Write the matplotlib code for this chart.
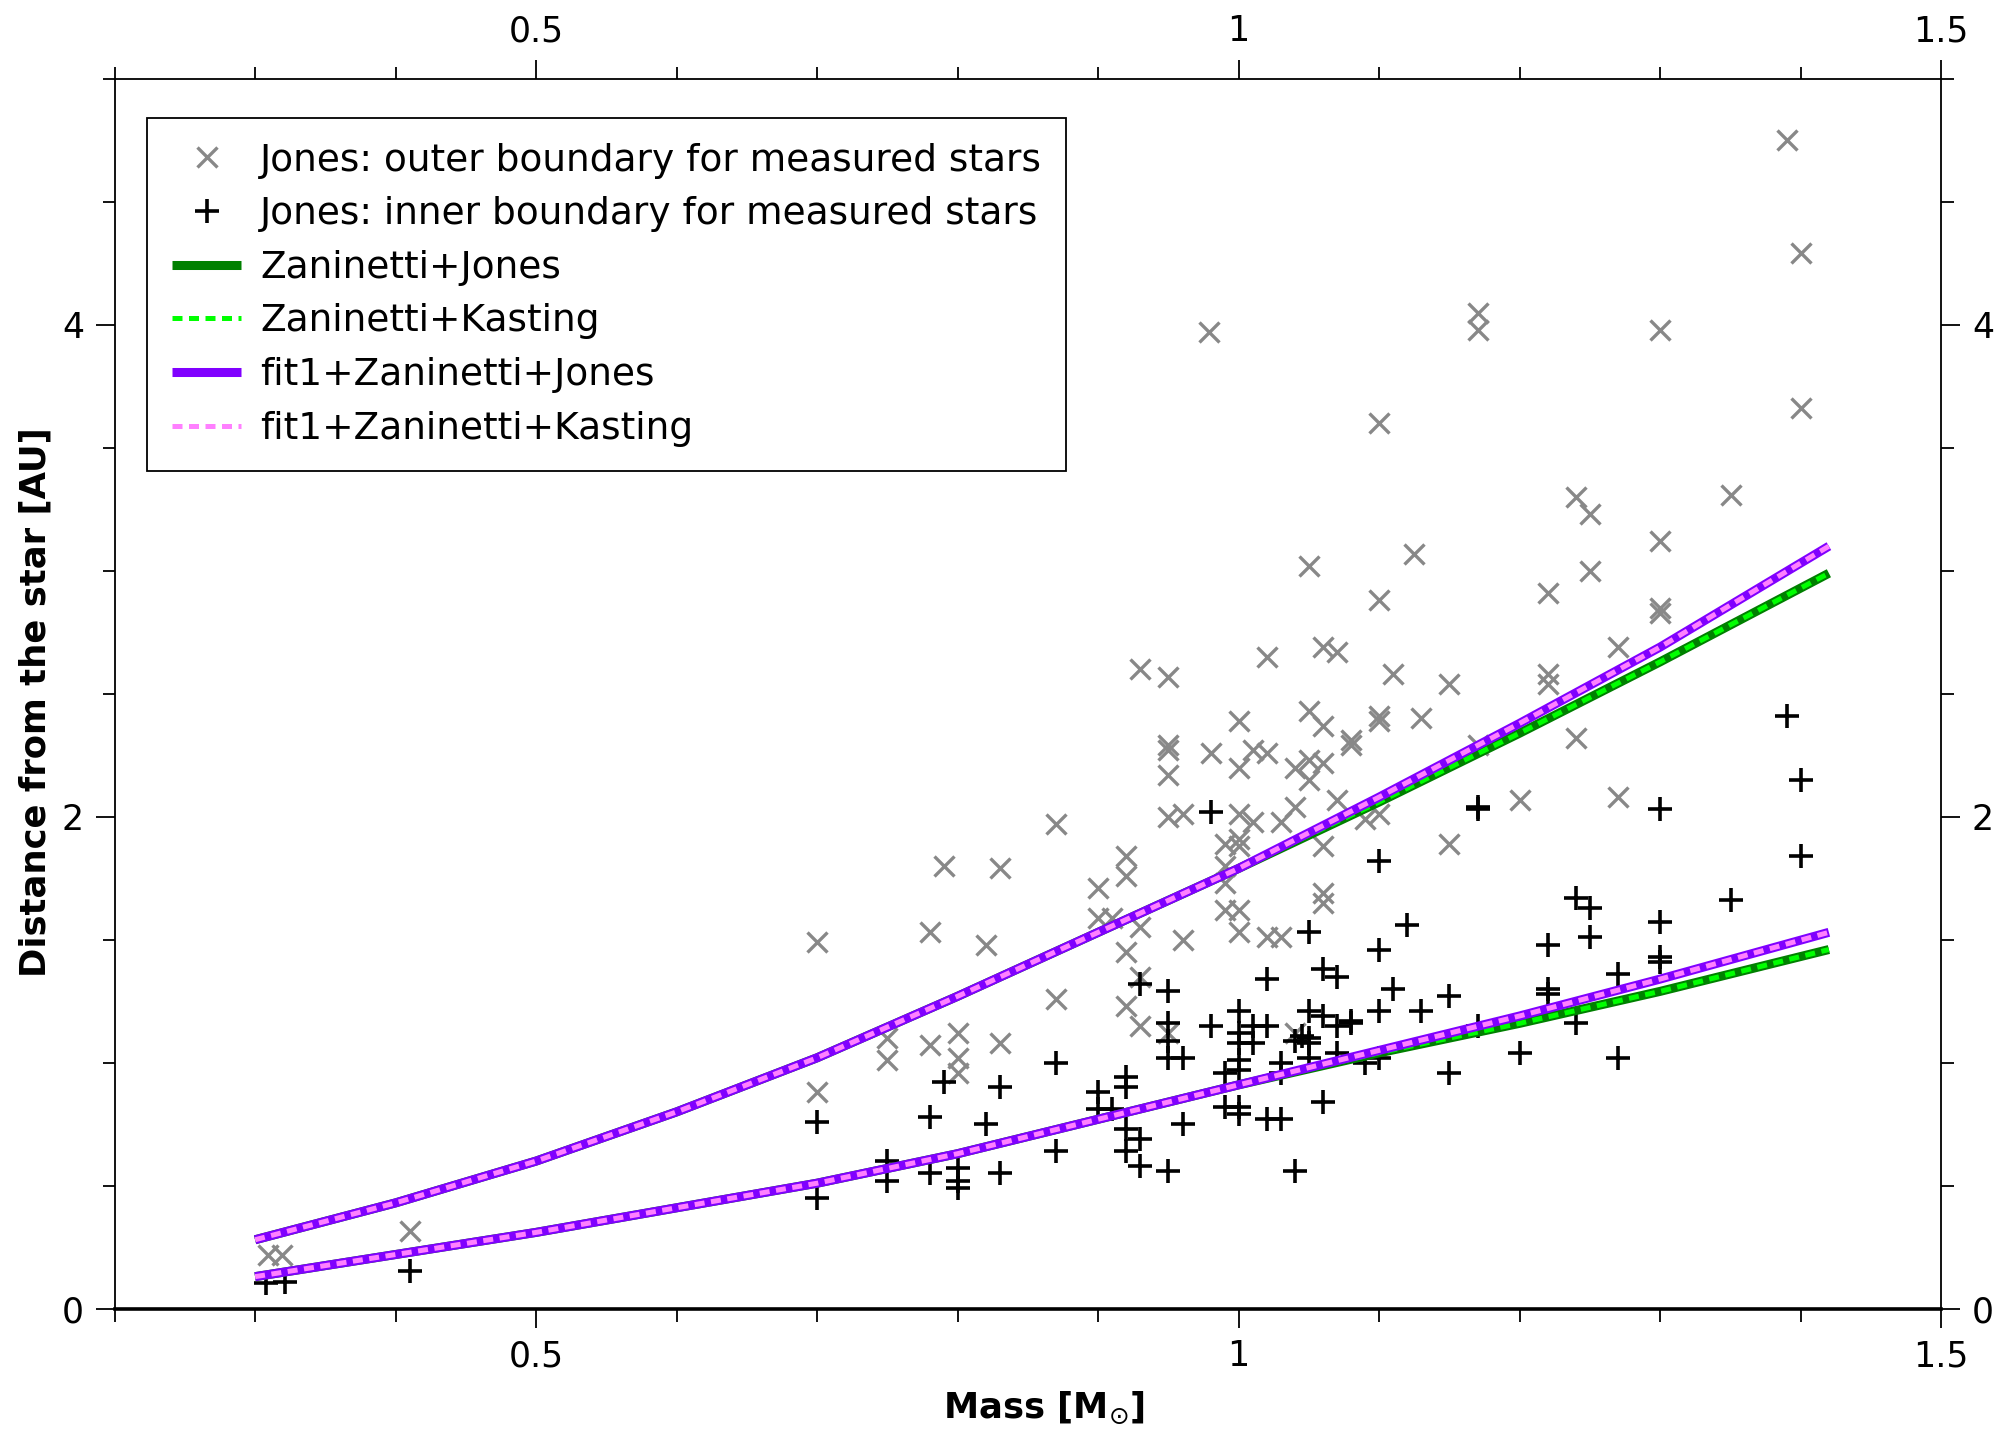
import matplotlib
matplotlib.use("Agg")
import matplotlib.pyplot as plt
from matplotlib.ticker import MultipleLocator

# ── data ─────────────────────────────────────────────────────────────────────
# Jones: outer boundary (gray x)
outer_mass = [0.309, 0.319, 0.41,
              0.70, 0.70, 0.75, 0.75, 0.78, 0.78, 0.79, 0.80, 0.80, 0.80,
              0.82, 0.83, 0.83, 0.87, 0.87, 0.90, 0.90, 0.91,
              0.92, 0.92, 0.92, 0.92, 0.93, 0.93, 0.93, 0.93,
              0.95, 0.95, 0.95, 0.95, 0.95, 0.95, 0.96, 0.96, 0.979, 0.98,
              0.99, 0.99, 0.99, 0.99, 1.00, 1.00, 1.00, 1.00, 1.00, 1.00, 1.00,
              1.01, 1.01, 1.02, 1.02, 1.02, 1.03, 1.03, 1.04, 1.04, 1.04,
              1.05, 1.05, 1.05, 1.05, 1.06, 1.06, 1.06, 1.06, 1.06, 1.06,
              1.07, 1.07, 1.08, 1.08, 1.09, 1.10, 1.10, 1.10, 1.10, 1.10,
              1.11, 1.125, 1.13, 1.15, 1.15, 1.17, 1.17, 1.17, 1.20,
              1.22, 1.22, 1.22, 1.24, 1.24, 1.25, 1.25, 1.27, 1.27,
              1.30, 1.30, 1.30, 1.30, 1.35, 1.39, 1.40, 1.40]
outer_dist = [0.22, 0.22, 0.315,
              1.49, 0.88, 1.10, 1.01, 1.53, 1.07, 1.80, 1.12, 1.02, 0.96,
              1.48, 1.79, 1.08, 1.97, 1.26, 1.71, 1.59, 1.59,
              1.84, 1.76, 1.45, 1.23, 2.60, 1.55, 1.35, 1.15,
              2.57, 2.29, 2.27, 2.17, 2.00, 1.12, 2.01, 1.50, 3.97, 2.26,
              1.89, 1.80, 1.73, 1.62, 2.39, 2.20, 2.01, 1.91, 1.88, 1.62, 1.53,
              2.27, 1.98, 2.65, 2.26, 1.51, 1.98, 1.51, 2.20, 2.04, 1.12,
              3.02, 2.43, 2.23, 2.15, 2.69, 2.37, 2.22, 1.88, 1.69, 1.65,
              2.67, 2.07, 2.31, 2.29, 1.99, 3.60, 2.88, 2.41, 2.39, 2.01,
              2.58, 3.07, 2.40, 2.54, 1.89, 4.05, 3.98, 2.29, 2.07,
              2.91, 2.58, 2.54, 3.30, 2.32, 3.23, 3.00, 2.69, 2.08,
              3.98, 3.12, 2.85, 2.83, 3.31, 4.75, 4.29, 3.66]

# Jones: inner boundary (black +)
inner_mass = [0.308, 0.321, 0.41,
              0.70, 0.70, 0.75, 0.75, 0.78, 0.78, 0.79, 0.80, 0.80, 0.80,
              0.82, 0.83, 0.83, 0.87, 0.87, 0.90, 0.90, 0.91,
              0.92, 0.92, 0.92, 0.92, 0.93, 0.93, 0.93,
              0.95, 0.95, 0.95, 0.95, 0.95, 0.96, 0.96, 0.98, 0.98,
              0.99, 0.99, 1.00, 1.00, 1.00, 1.00, 1.00, 1.00, 1.00,
              1.01, 1.01, 1.02, 1.02, 1.02, 1.03, 1.03, 1.03, 1.04, 1.04,
              1.045, 1.05, 1.05, 1.05, 1.05, 1.05, 1.06, 1.06, 1.06,
              1.07, 1.07, 1.07, 1.08, 1.08, 1.09,
              1.10, 1.10, 1.10, 1.10, 1.11, 1.12, 1.13, 1.15, 1.15,
              1.17, 1.17, 1.17, 1.20, 1.22, 1.22, 1.22, 1.24, 1.24,
              1.25, 1.25, 1.27, 1.27, 1.30, 1.30, 1.30, 1.30,
              1.35, 1.39, 1.40, 1.40]
inner_dist = [0.104, 0.11, 0.154,
              0.76, 0.45, 0.60, 0.52, 0.78, 0.55, 0.92, 0.57, 0.52, 0.49,
              0.75, 0.90, 0.55, 1.00, 0.64, 0.88, 0.81, 0.81,
              0.94, 0.90, 0.73, 0.64, 1.32, 0.69, 0.58,
              1.29, 1.16, 1.09, 1.02, 0.56, 1.02, 0.75, 2.02, 1.15,
              0.96, 0.82, 1.21, 1.12, 1.08, 1.01, 0.97, 0.82, 0.79,
              1.15, 1.08, 1.34, 1.15, 0.77, 1.00, 0.96, 0.77, 1.09, 0.56,
              1.11, 1.53, 1.21, 1.10, 1.08, 1.02, 1.38, 1.19, 0.84,
              1.35, 1.15, 1.04, 1.17, 1.16, 1.00,
              1.82, 1.46, 1.21, 1.02, 1.30, 1.56, 1.21, 1.27, 0.96,
              2.04, 2.03, 1.15, 1.04, 1.48, 1.30, 1.28, 1.67, 1.16,
              1.63, 1.51, 1.36, 1.02, 2.03, 1.57, 1.43, 1.41,
              1.66, 2.41, 2.15, 1.84]

# habitable-zone curves
curve_mass = [0.30, 0.40, 0.50, 0.60, 0.70, 0.80, 0.90, 1.00, 1.10, 1.20, 1.30, 1.42]
zan_outer = [0.28, 0.43, 0.60, 0.80, 1.02, 1.27, 1.53, 1.79, 2.06, 2.34, 2.63, 2.99]
zan_inner = [0.13, 0.22, 0.31, 0.41, 0.51, 0.63, 0.77, 0.91, 1.04, 1.16, 1.29, 1.46]
fit_outer = [0.28, 0.43, 0.60, 0.80, 1.02, 1.27, 1.53, 1.79, 2.08, 2.38, 2.69, 3.10]
fit_inner = [0.13, 0.22, 0.31, 0.41, 0.51, 0.63, 0.77, 0.91, 1.05, 1.19, 1.34, 1.53]

x_major = [0.5, 1.0, 1.5]
x_labels = ['0.5', '1', '1.5']
y_major = [0, 2, 4]
y_labels = ['0', '2', '4']

# ── figure ───────────────────────────────────────────────────────────────────
plt.rcParams['font.family'] = 'DejaVu Sans'

fig = plt.figure(figsize=(19.96, 14.39), dpi=100)
ax = fig.add_axes([0.0574, 0.0906, 0.9152, 0.8546])

ax.plot(outer_mass, outer_dist, ls='none', marker='x', ms=14, mew=2.4,
        color='#888888', label='Jones: outer boundary for measured stars')
ax.plot(inner_mass, inner_dist, ls='none', marker='+', ms=17, mew=2.6,
        color='black', label='Jones: inner boundary for measured stars')

dash = (0, (2.0, 1.3))
styles = [
    (zan_outer, zan_inner, dict(color='#008000', lw=6.5, ls='-'), 'Zaninetti+Jones'),
    (zan_outer, zan_inner, dict(color='#00ff00', lw=3.6, ls=dash), 'Zaninetti+Kasting'),
    (fit_outer, fit_inner, dict(color='#8000ff', lw=6.5, ls='-'), 'fit1+Zaninetti+Jones'),
    (fit_outer, fit_inner, dict(color='#ff80ff', lw=3.6, ls=dash), 'fit1+Zaninetti+Kasting'),
]
for up, low, kw, lab in styles:
    ax.plot(curve_mass, up, label=lab, solid_capstyle='butt', dash_capstyle='butt', **kw)
    ax.plot(curve_mass, low, solid_capstyle='butt', dash_capstyle='butt', **kw)

ax.set_xlim(0.2, 1.5)
ax.set_ylim(0, 5)
ax.set_xticks(x_major, x_labels)
ax.set_yticks(y_major, y_labels)
ax.xaxis.set_minor_locator(MultipleLocator(0.1))
ax.yaxis.set_minor_locator(MultipleLocator(0.5))
ax.tick_params(which='both', direction='out', top=True, right=True,
               labeltop=True, labelright=True, labelsize=25, pad=8, width=1.3)
ax.tick_params(which='major', length=14)
ax.tick_params(which='minor', length=9)
for s in ax.spines.values():
    s.set_linewidth(1.3)
ax.spines['bottom'].set_linewidth(2.6)

leg = ax.legend(loc='upper left', bbox_to_anchor=(0.018, 0.968),
                fancybox=False, edgecolor='black', framealpha=1, fontsize=27,
                handlelength=1.85, handletextpad=0.5, labelspacing=0.47,
                borderpad=0.65, borderaxespad=0)
leg.get_frame().set_linewidth(1.3)

fig.text(0.5233, 0.0146, r'Mass [M$_{\odot}$]', ha='center', va='baseline',
         fontsize=25.5, fontweight='bold')
fig.text(0.018, 0.512, 'Distance from the star [AU]', ha='center', va='center',
         rotation=90, fontsize=25.5, fontweight='bold')

fig.savefig('out.png', dpi=100, facecolor='white')
